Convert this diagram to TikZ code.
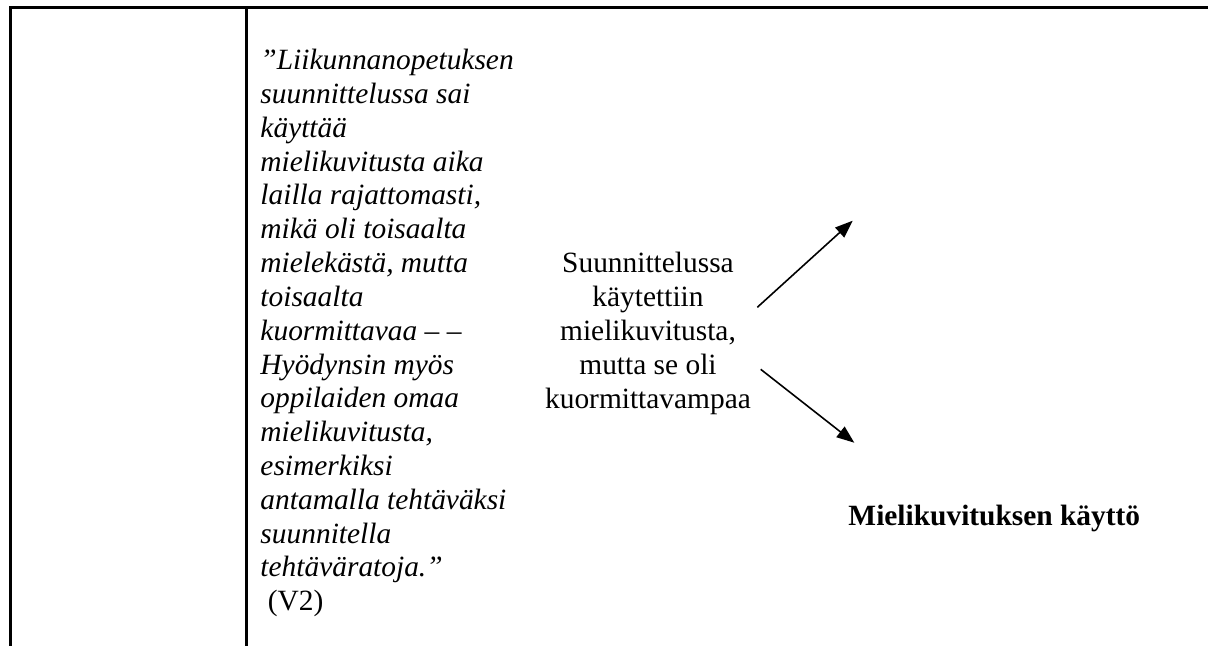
\documentclass[tikz,border=0pt]{standalone}
\usepackage{fontspec}
\setmainfont{Liberation Serif}
\usetikzlibrary{arrows.meta}
\begin{document}
\begin{tikzpicture}[x=0.408pt,y=-0.408pt,
  rule/.style={line width=1.15pt},
  quotetext/.style={anchor=base west, align=left, inner sep=0pt, font=\fontsize{12}{13.8}\selectfont\itshape},
  midtext/.style={anchor=base, align=center, inner sep=0pt, font=\fontsize{12}{13.8}\selectfont},
  boldtext/.style={anchor=base west, inner sep=0pt, font=\fontsize{12}{13.8}\selectfont\bfseries},
  arr/.style={line width=0.65pt, -{Triangle[length=7.2pt, width=5.4pt]}}]
\useasboundingbox (0,0) rectangle (1208,646);
% table rules
\coordinate (tl) at (9,7.5);
\coordinate (tr) at (1208,7.5);
\coordinate (lb) at (10.5,646);
\coordinate (lt) at (10.5,6);
\coordinate (mt) at (246.5,6);
\coordinate (mb) at (246.5,646);
\draw[rule] (tl) -- (tr);
\draw[rule] (lt) -- (lb);
\draw[rule] (mt) -- (mb);
% texts (base anchor = baseline of the last line)
\node[quotetext] (quote) at (260,610.8) {”Liikunnanopetuksen\\
suunnittelussa sai\\
käyttää\\
mielikuvitusta aika\\
lailla rajattomasti,\\
mikä oli toisaalta\\
mielekästä, mutta\\
toisaalta\\
kuormittavaa – –\\
Hyödynsin myös\\
oppilaiden omaa\\
mielikuvitusta,\\
esimerkiksi\\
antamalla tehtäväksi\\
suunnitella\\
tehtäväratoja.”\\
\upshape\ (V2)};
\node[midtext] (mid) at (648,408.2) {Suunnittelussa\\
käytettiin\\
mielikuvitusta,\\
mutta se oli\\
kuormittavampaa};
\node[boldtext] (res) at (848,525) {Mielikuvituksen käyttö};
% arrows
\coordinate (a1s) at (757.3,307.3);
\coordinate (a1e) at (852.7,220.7);
\coordinate (a2s) at (760.7,369.3);
\coordinate (a2e) at (854.3,442.7);
\draw[arr] (a1s) -- (a1e);
\draw[arr] (a2s) -- (a2e);
\end{tikzpicture}
\end{document}
